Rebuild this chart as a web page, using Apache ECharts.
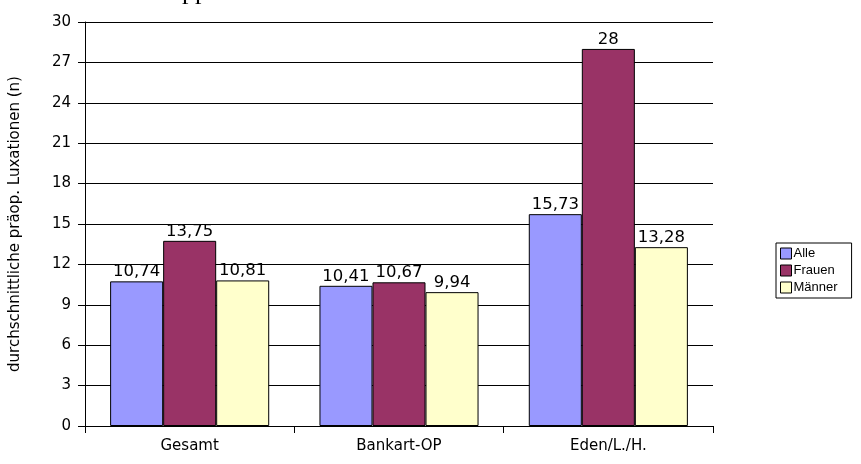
<!DOCTYPE html>
<html>
<head>
<meta charset="utf-8">
<script src="https://cdn.jsdelivr.net/npm/echarts@6/dist/echarts.min.js"></script>
<style>
  html, body { margin: 0; padding: 0; background: #fff; }
  #chart_con { width: 861px; height: 464px; }
</style>
</head>
<body>
<div id="chart_con"></div>
<script>
// Kategorien und Werte
const categories = ["Gesamt", "Bankart-OP", "Eden/L./H."];
const alle = [10.74, 10.41, 15.73];
const frauen = [13.75, 10.67, 28];
const maenner = [10.81, 9.94, 13.28];
const yTicks = [0, 3, 6, 9, 12, 15, 18, 21, 24, 27, 30];

const fmt = function (p) {
  return String(p.value).replace(".", ",");
};

const labelStyle = {
  show: true,
  position: "top",
  distance: 1,
  color: "#000",
  fontFamily: "DejaVu Sans",
  fontSize: 16.5,
  formatter: fmt
};

const barStyle = { borderColor: "#000", borderWidth: 1 };

const option = {
  animation: false,
  backgroundColor: "#fff",
  color: ["#9999FF", "#993366", "#FFFFCC"],
  graphic: [
    {
      type: "text",
      left: 182,
      top: -21,
      style: { text: "pp", font: "26px 'Liberation Serif'", fill: "#000" }
    }
  ],
  legend: {
    data: ["Alle", "Frauen", "Männer"],
    orient: "vertical",
    left: 776,
    top: 243,
    icon: "rect",
    itemWidth: 11,
    itemHeight: 11,
    itemGap: 4,
    padding: [4, 14, 4, 4],
    borderColor: "#000",
    borderWidth: 1,
    textStyle: { fontFamily: "Liberation Sans", fontSize: 13, color: "#000", padding: [0, 0, 0, -3] },
    itemStyle: { borderColor: "#000", borderWidth: 1 }
  },
  grid: {
    left: 85,
    right: 148,
    top: 22,
    bottom: 38
  },
  xAxis: [
    {
      type: "category",
      data: categories,
      axisLine: { lineStyle: { color: "#000", width: 1 } },
      axisTick: { show: true, length: 7, lineStyle: { color: "#000" } },
      axisLabel: { color: "#000", fontFamily: "DejaVu Sans", fontSize: 15, margin: 13 }
    }
  ],
  yAxis: [
    {
      type: "value",
      min: 0,
      max: 30,
      interval: 3,
      name: "durchschnittliche präop. Luxationen (n)",
      nameLocation: "middle",
      nameGap: 62,
      nameTextStyle: { color: "#000", fontFamily: "DejaVu Sans", fontSize: 15 },
      axisLine: { show: true, lineStyle: { color: "#000" } },
      axisTick: { show: true, length: 7, lineStyle: { color: "#000" } },
      axisLabel: {
        color: "#000",
        fontFamily: "DejaVu Sans",
        fontSize: 15,
        margin: 14,
        formatter: function (v) { return yTicks.indexOf(v) >= 0 ? String(v) : ""; }
      },
      splitLine: { show: true, lineStyle: { color: "#000", width: 1 } }
    }
  ],
  series: [
    {
      name: "Alle",
      type: "bar",
      data: alle,
      barGap: "0%",
      barCategoryGap: "24%",
      itemStyle: barStyle,
      label: labelStyle
    },
    {
      name: "Frauen",
      type: "bar",
      data: frauen,
      barGap: "0%",
      barCategoryGap: "24%",
      itemStyle: barStyle,
      label: labelStyle
    },
    {
      name: "Männer",
      type: "bar",
      data: maenner,
      barGap: "0%",
      barCategoryGap: "24%",
      itemStyle: barStyle,
      label: labelStyle
    }
  ]
};

const chart = echarts.init(document.getElementById("chart_con"));
chart.setOption(option);
window.addEventListener("resize", function () {
  chart.resize();
});
</script>
</body>
</html>
